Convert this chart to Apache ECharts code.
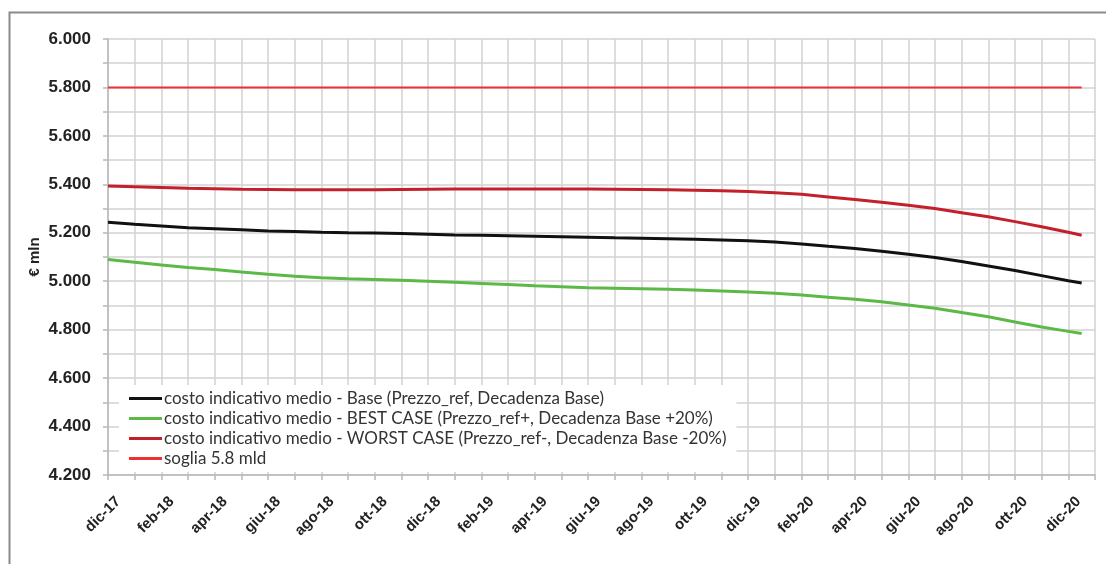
<!DOCTYPE html>
<html>
<head>
<meta charset="utf-8">
<script src="https://cdn.jsdelivr.net/npm/echarts@6/dist/echarts.min.js"></script>
<style>
html,body{margin:0;padding:0;background:#fff;}
#c{width:1106px;height:564px;}
</style>
</head>
<body>
<div id="c"></div>
<script>
// month labels, one per month from dic-17 to gen-21
const months = ['dic-17','gen-18','feb-18','mar-18','apr-18','mag-18','giu-18','lug-18','ago-18','set-18','ott-18','nov-18',
  'dic-18','gen-19','feb-19','mar-19','apr-19','mag-19','giu-19','lug-19','ago-19','set-19','ott-19','nov-19',
  'dic-19','gen-20','feb-20','mar-20','apr-20','mag-20','giu-20','lug-20','ago-20','set-20','ott-20','nov-20',
  'dic-20','gen-21'];
// x positions (months from dic-17) of the data points
const xPos = [0,1,2,3,4,5,6,7,8,9,10,11,12,13,14,15,16,17,18,19,20,21,22,23,24,25,26,27,28,29,30,31,32,33,34,35,36,36.5];
const base = [5243,5235,5228,5221,5217,5212,5207,5205,5202,5200,5199,5197,5194,5191,5190,5188,5186,5184,5182,5179,5177,5175,5173,5170,5167,5162,5154,5144,5135,5124,5111,5098,5081,5063,5044,5023,5002,4993];
const best = [5090,5078,5067,5057,5048,5038,5029,5021,5014,5010,5007,5004,5000,4996,4991,4986,4981,4977,4973,4971,4969,4967,4964,4960,4955,4950,4943,4934,4926,4915,4902,4888,4871,4853,4832,4811,4793,4784];
const worst = [5393,5390,5387,5384,5382,5380,5379,5378,5378,5378,5378,5379,5380,5381,5381,5381,5381,5381,5381,5380,5379,5378,5376,5373,5370,5365,5359,5348,5337,5326,5314,5300,5283,5266,5246,5225,5202,5190];
const soglia = [5800,5800];
const sogliaX = [0,36.5];
const seriesNames = [
  'costo indicativo medio - Base (Prezzo_ref, Decadenza Base)',
  'costo indicativo medio - BEST CASE (Prezzo_ref+, Decadenza Base +20%)',
  'costo indicativo medio - WORST CASE (Prezzo_ref-, Decadenza Base -20%)',
  'soglia 5.8 mld'
];

const pairs = (xs, ys) => ys.map((v, i) => [xs[i], v]);
const fmt = v => Math.floor(v / 1000) + '.' + String(v % 1000).padStart(3, '0');

const chart = echarts.init(document.getElementById('c'), null, {renderer: 'canvas'});
const gridColor = '#d2d2d2';
chart.setOption({
  animation: false,
  backgroundColor: '#fff',
  graphic: [{
    type: 'rect', silent: true, z: -10,
    shape: {x: 9.5, y: 12.5, width: 1200, height: 700},
    style: {fill: 'none', stroke: '#8a8a8a', lineWidth: 2}
  }],
  grid: {left: 108, right: 11, top: 39, bottom: 89, containLabel: false},
  legend: {
    orient: 'vertical',
    left: 119, top: 385,
    padding: [5, 10, 5, 10],
    backgroundColor: '#fff',
    icon: 'rect',
    itemWidth: 33, itemHeight: 3, itemGap: 3,
    textStyle: {fontFamily: 'Lato', fontSize: 17, color: '#333', lineHeight: 16, padding: [0, 0, 0, -3]},
    data: seriesNames
  },
  xAxis: {
    type: 'value', min: 0, max: 37, interval: 1,
    axisLine: {show: true, lineStyle: {color: '#b8b8b8', width: 1.5}},
    axisTick: {show: true, length: 5, lineStyle: {color: '#b8b8b8', width: 1.5}},
    splitLine: {show: true, lineStyle: {color: gridColor, width: 1.5}},
    axisLabel: {
      rotate: 45, margin: 14,
      verticalAlign: 'top', padding: [7, 0, 0, 0],
      fontFamily: 'Liberation Sans', fontWeight: 'bold', fontSize: 15, color: '#222',
      formatter: v => (Number.isInteger(v) && v % 2 === 0) ? months[v] : ''
    }
  },
  yAxis: {
    type: 'value', min: 4200, max: 6000, interval: 100,
    name: '€ mln', nameLocation: 'middle', nameGap: 66, nameMoveOverlap: false,
    nameTextStyle: {fontFamily: 'Liberation Sans', fontWeight: 'bold', fontSize: 15, color: '#222'},
    axisLine: {show: true, lineStyle: {color: '#b8b8b8', width: 1.5}},
    axisTick: {show: true, length: 5, lineStyle: {color: '#b8b8b8', width: 1.5}},
    splitLine: {show: true, lineStyle: {color: gridColor, width: 1.5}},
    axisLabel: {
      margin: 17,
      fontFamily: 'Liberation Sans', fontWeight: 'bold', fontSize: 17, color: '#222',
      formatter: v => v % 200 === 0 ? fmt(v) : ''
    }
  },
  series: [
    {name: seriesNames[0], type: 'line', symbol: 'none', data: pairs(xPos, base),
     lineStyle: {color: '#111', width: 3}, itemStyle: {color: '#111'}, z: 4},
    {name: seriesNames[1], type: 'line', symbol: 'none', data: pairs(xPos, best),
     lineStyle: {color: '#5db947', width: 3}, itemStyle: {color: '#5db947'}, z: 3},
    {name: seriesNames[2], type: 'line', symbol: 'none', data: pairs(xPos, worst),
     lineStyle: {color: '#c4202b', width: 3}, itemStyle: {color: '#c4202b'}, z: 3},
    {name: seriesNames[3], type: 'line', symbol: 'none', data: pairs(sogliaX, soglia),
     lineStyle: {color: '#ee3035', width: 2}, itemStyle: {color: '#ee3035'}, z: 2}
  ]
});
</script>
</body>
</html>
